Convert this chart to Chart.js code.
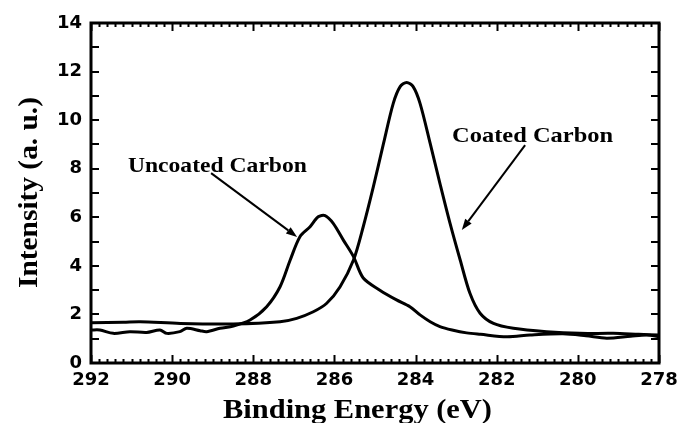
<!DOCTYPE html>
<html>
<head>
<meta charset="utf-8">
<script src="https://cdn.jsdelivr.net/npm/chart.js@4.4.1/dist/chart.umd.min.js"></script>
<style>
  html, body { margin: 0; padding: 0; background: #fff; }
  #wrap { width: 678px; height: 423px; position: relative; }
</style>
</head>
<body>
<div id="wrap"><canvas id="xps"></canvas></div>
<script>
//-----------------------------------------
// DATA
//-----------------------------------------
const uncoatedE = [292.0, 291.78, 291.45, 291.04, 290.63, 290.30, 290.13, 289.81, 289.64, 289.31,
  289.15, 288.82, 288.49, 288.08, 287.67, 287.34, 287.09, 286.85, 286.60, 286.40,
  286.23, 286.03, 285.78, 285.53, 285.29, 284.88, 284.47, 284.14, 283.89, 283.64,
  283.40, 283.10, 282.74, 282.40, 281.75, 281.18, 280.37, 279.80, 279.29, 278.70, 278.30, 278.0];
const uncoatedI = [1.36, 1.36, 1.22, 1.29, 1.26, 1.36, 1.22, 1.29, 1.43, 1.33,
  1.29, 1.43, 1.52, 1.77, 2.32, 3.14, 4.24, 5.20, 5.61, 6.02,
  6.07, 5.75, 5.06, 4.38, 3.50, 3.00, 2.60, 2.32, 1.98, 1.70,
  1.50, 1.36, 1.24, 1.18, 1.08, 1.15, 1.20, 1.12, 1.02, 1.10, 1.15, 1.08];

const coatedE = [292.0, 291.2, 290.79, 289.8, 288.49, 287.34, 286.93, 286.52, 286.19, 285.86,
  285.53, 285.29, 285.04, 284.79, 284.55, 284.38, 284.22, 284.06, 283.89, 283.64,
  283.40, 283.15, 282.90, 282.66, 282.41, 282.08, 281.59, 280.77, 279.95, 279.13, 278.5, 278.0];
const coatedI = [1.66, 1.68, 1.70, 1.63, 1.61, 1.70, 1.84, 2.11, 2.46, 3.14,
  4.24, 5.61, 7.26, 9.04, 10.69, 11.38, 11.55, 11.38, 10.69, 9.04,
  7.40, 5.75, 4.24, 2.87, 2.05, 1.63, 1.43, 1.29, 1.22, 1.22, 1.18, 1.15];

// axis ranges / labels
const xRange = [278, 292];
const yRange = [0, 14];
const xTitle = "Binding Energy (eV)";
const yTitle = "Intensity (a. u.)";

// annotations: [text, textE, textI, arrowFromE, arrowFromI, arrowToE, arrowToI]
const notes = [
  ["Uncoated Carbon", 291.09, 7.86, 289.04, 7.82, 286.92, 5.19],
  ["Coated Carbon", 283.10, 9.10, 281.30, 8.97, 282.86, 5.48]
];

//-----------------------------------------
// HELPERS
//-----------------------------------------
function toPoints(xs, ys) {
  return xs.map((v, i) => ({ x: v, y: ys[i] }));
}

// text squeezed/stretched to a width (the reference is a bit wide)
function fitText(ctx, text, x, y, font, width) {
  ctx.font = font;
  const w = ctx.measureText(text).width;
  ctx.save();
  ctx.translate(x, y);
  ctx.scale(width / w, 1);
  ctx.fillText(text, 0, 0);
  ctx.restore();
}

function arrow(ctx, x1, y1, x2, y2) {
  const ang = Math.atan2(y2 - y1, x2 - x1);
  const hl = 11, hw = 4;
  const bx = x2 - hl * Math.cos(ang), by = y2 - hl * Math.sin(ang);
  ctx.beginPath();
  ctx.moveTo(x1, y1);
  ctx.lineTo(bx, by);
  ctx.stroke();
  ctx.beginPath();
  ctx.moveTo(x2, y2);
  ctx.lineTo(bx + hw * Math.sin(ang), by - hw * Math.cos(ang));
  ctx.lineTo(bx - hw * Math.sin(ang), by + hw * Math.cos(ang));
  ctx.closePath();
  ctx.fill();
}

// keep the plot box where the reference has it, whatever the labels need
function fixBox(size) {
  return s => {
    if (s.isHorizontal()) s.height = size; else s.width = size;
    s.paddingLeft = 0; s.paddingRight = 0;
    s.paddingTop = 0; s.paddingBottom = 0;
  };
}

//-----------------------------------------
// FRAME, INWARD TICKS, TITLES, NOTES
//-----------------------------------------
const decorations = {
  id: "decorations",
  afterDraw(chart) {
    const { ctx, chartArea: a, scales: { x, y } } = chart;
    ctx.save();
    ctx.strokeStyle = "#000";
    ctx.fillStyle = "#000";

    // minor / major ticks on all four sides
    ctx.lineWidth = 2;
    ctx.beginPath();
    for (let i = 0; i <= 70; i++) {
      const px = Math.round(x.getPixelForValue(xRange[0] + i * 0.2)) + 0.5;
      const len = i % 10 === 0 ? 8 : 4;
      ctx.moveTo(px, a.bottom); ctx.lineTo(px, a.bottom - len);
      ctx.moveTo(px, a.top); ctx.lineTo(px, a.top + len);
    }
    for (let v = yRange[0]; v <= yRange[1]; v++) {
      const py = Math.round(y.getPixelForValue(v));
      ctx.moveTo(a.left, py); ctx.lineTo(a.left + 8, py);
      ctx.moveTo(a.right, py); ctx.lineTo(a.right - 8, py);
    }
    ctx.stroke();

    ctx.lineWidth = 3;
    ctx.strokeRect(a.left, a.top, a.right - a.left, a.bottom - a.top);

    // axis titles
    ctx.textBaseline = "alphabetic";
    ctx.textAlign = "left";
    fitText(ctx, xTitle, 223, 418, "bold 27px 'Liberation Serif'", 269);
    ctx.save();
    ctx.translate(37, 288);
    ctx.rotate(-Math.PI / 2);
    fitText(ctx, yTitle, 0, 0, "bold 27px 'Liberation Serif'", 191);
    ctx.restore();

    // notes with arrows
    ctx.lineWidth = 2;
    const widths = [179, 161];
    notes.forEach((n, i) => {
      fitText(ctx, n[0], x.getPixelForValue(n[1]), y.getPixelForValue(n[2]),
        "bold 21px 'Liberation Serif'", widths[i]);
      arrow(ctx, x.getPixelForValue(n[3]), y.getPixelForValue(n[4]),
        x.getPixelForValue(n[5]), y.getPixelForValue(n[6]));
    });
    ctx.restore();
  }
};

//-----------------------------------------
// CHART
//-----------------------------------------
new Chart(document.getElementById("xps"), {
  type: "line",
  data: {
    datasets: [
      { label: "Uncoated Carbon", data: toPoints(uncoatedE, uncoatedI) },
      { label: "Coated Carbon", data: toPoints(coatedE, coatedI) }
    ]
  },
  options: {
    responsive: true,
    maintainAspectRatio: false,
    animation: false,
    layout: { padding: { top: 23, right: 19, left: 0, bottom: 0 } },
    elements: {
      line: { borderColor: "#000", borderWidth: 3, tension: 0.3, fill: false },
      point: { radius: 0 }
    },
    plugins: { legend: { display: false }, tooltip: { enabled: false } },
    scales: {
      x: {
        type: "linear",
        reverse: true,
        min: xRange[0],
        max: xRange[1],
        grid: { display: false, drawTicks: false },
        border: { display: false },
        ticks: {
          stepSize: 2,
          padding: 7,
          color: "#000",
          maxRotation: 0,
          font: { family: "'DejaVu Sans'", weight: "bold", size: 18 }
        },
        afterFit: fixBox(60)
      },
      y: {
        min: yRange[0],
        max: yRange[1],
        grid: { display: false, drawTicks: false },
        border: { display: false },
        ticks: {
          stepSize: 2,
          padding: 9,
          color: "#000",
          font: { family: "'DejaVu Sans'", weight: "bold", size: 18 }
        },
        afterFit: fixBox(91)
      }
    }
  },
  plugins: [decorations]
});
</script>
</body>
</html>
